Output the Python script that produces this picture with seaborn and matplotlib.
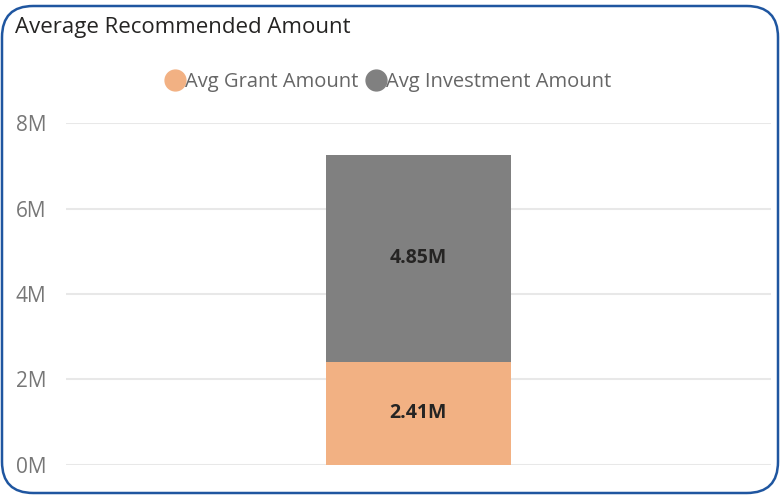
import matplotlib
matplotlib.use("Agg")
import matplotlib.pyplot as plt
from matplotlib.lines import Line2D
from matplotlib.patches import FancyBboxPatch
import pandas as pd
import seaborn as sns

categories = ["Total"]
grant_amount = [2.41e6]
investment_amount = [4.85e6]
series_names = ["Avg Grant Amount", "Avg Investment Amount"]
tick_values = [0, 2e6, 4e6, 6e6, 8e6]
tick_labels = ["0M", "2M", "4M", "6M", "8M"]

grant_color = "#F2B183"
invest_color = "#808080"

df = pd.DataFrame({
    "cat": categories,
    "grant": grant_amount,
    "invest": investment_amount,
})
df["total"] = df["grant"] + df["invest"]

sns.set_style("white")
plt.rcParams["font.family"] = ["Open Sans", "DejaVu Sans"]

fig = plt.figure(figsize=(7.81, 4.98), dpi=100)
ax = fig.add_axes([0.0845, 0.0663, 0.9025, 0.6867])

# stacked: total in grey, grant on top of it from zero
sns.barplot(data=df, x="cat", y="total", color=invest_color, width=0.262,
            saturation=1, linewidth=0, ax=ax, zorder=3)
sns.barplot(data=df, x="cat", y="grant", color=grant_color, width=0.262,
            saturation=1, linewidth=0, ax=ax, zorder=3)

for i, row in df.iterrows():
    ax.text(i, row["grant"] / 2, f"{row['grant'] / 1e6:.2f}M", ha="center", va="center",
            fontsize=14, fontweight="bold", color="#252423", zorder=4)
    ax.text(i, row["grant"] + row["invest"] / 2, f"{row['invest'] / 1e6:.2f}M",
            ha="center", va="center", fontsize=14, fontweight="bold",
            color="#252423", zorder=4)

ax.set_xlim(-0.5, 0.5)
ax.set_ylim(0, 8e6)
ax.set_yticks(tick_values)
ax.set_yticklabels(tick_labels, fontsize=15, color="#777777")
ax.tick_params(axis="y", length=0, pad=14)
ax.set_xticks([])
ax.set_xlabel("")
ax.set_ylabel("")
ax.yaxis.grid(True, color="#E8E8E8", linewidth=1.5, zorder=0)
ax.set_axisbelow(True)
for s in ax.spines.values():
    s.set_visible(False)

fig.text(15 / 781, 1 - 28 / 498, "Average Recommended Amount", fontsize=16,
         color="#252423", ha="left", va="center")

handles = [
    Line2D([], [], marker="o", linestyle="", markersize=15, color=grant_color),
    Line2D([], [], marker="o", linestyle="", markersize=15, color=invest_color),
]
leg = fig.legend(handles, series_names, loc="center", bbox_to_anchor=(0.497, 1 - 82 / 498),
                 ncol=2, frameon=False, fontsize=14.5, handletextpad=0.0,
                 columnspacing=0.4, handlelength=1.0)
for t in leg.get_texts():
    t.set_color("#666666")

border = FancyBboxPatch((2 / 781, 5 / 498), 776 / 781, 487 / 498,
                        boxstyle="round,pad=0,rounding_size=0.04",
                        transform=fig.transFigure, facecolor="none",
                        edgecolor="#1F56A0", linewidth=1.8,
                        mutation_aspect=781 / 498)
fig.patches.append(border)

fig.savefig("out.png", dpi=100)
